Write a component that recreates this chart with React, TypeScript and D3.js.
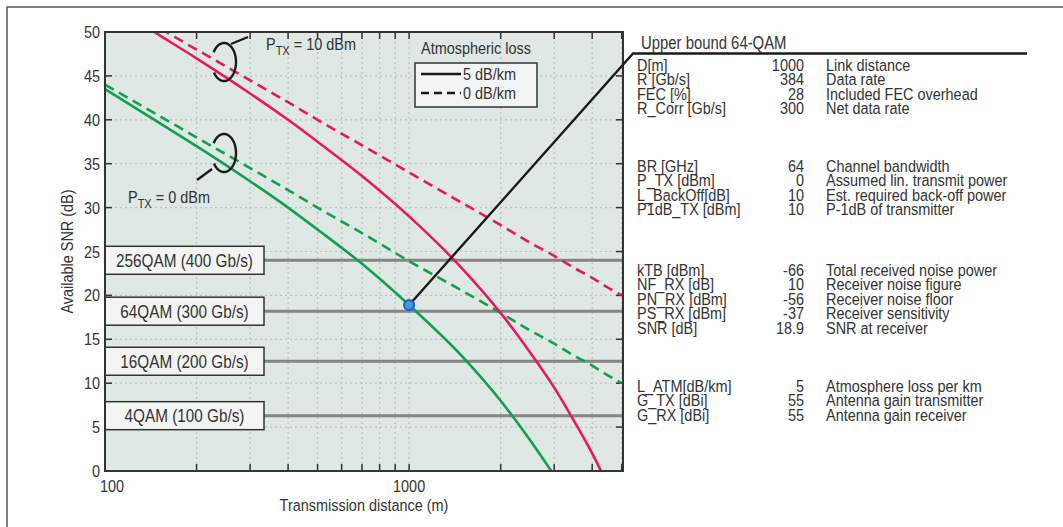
import React, { useEffect, useRef } from 'react';
import * as d3 from 'd3';

// distance samples (m) and SNR (dB)
const distances = [100, 150, 200, 300, 400, 500, 700, 1000, 1500, 2000, 2500, 3000, 3500, 4000, 4500, 5000];
const snr0dBm0 = [44.0, 40.5, 38.0, 34.5, 32.0, 30.0, 27.1, 23.9, 20.5, 18.0, 16.0, 14.5, 13.1, 12.0, 10.9, 10.0];
const snr0dBm5 = [43.5, 39.7, 37.0, 33.0, 30.0, 27.5, 23.6, 18.9, 13.0, 8.0, 3.5, -0.5, null, null, null, null];
const snr10dBm0 = [54.0, 50.5, 48.0, 44.5, 42.0, 40.0, 37.1, 34.0, 30.5, 28.0, 26.0, 24.5, 23.1, 22.0, 20.9, 20.0];
const snr10dBm5 = [53.5, 49.7, 47.0, 43.0, 40.0, 37.5, 33.6, 29.0, 23.0, 18.0, 13.5, 9.5, 5.6, 2.0, -1.6, null];

const qamLabels = ['256QAM (400 Gb/s)', '64QAM (300 Gb/s)', '16QAM (200 Gb/s)', '4QAM (100 Gb/s)'];
const qamSnr = [24, 18.2, 12.5, 6.3];

const linkDistance = 1000;
const linkSnr = 18.9;

const xMajor = [100, 1000];
const xMinor = [200, 300, 400, 500, 600, 700, 800, 900, 2000, 3000, 4000, 5000];
const yTicks = d3.range(0, 51, 5);

const tableNames = [
  ['D[m]', 'R [Gb/s]', 'FEC [%]', 'R_Corr [Gb/s]'],
  ['BR [GHz]', 'P_TX [dBm]', 'L_BackOff[dB]', 'P1dB_TX [dBm]'],
  ['kTB [dBm]', 'NF_RX [dB]', 'PN_RX [dBm]', 'PS_RX [dBm]', 'SNR [dB]'],
  ['L_ATM[dB/km]', 'G_TX [dBi]', 'G_RX [dBi]'],
];
const tableValues = [
  ['1000', '384', '28', '300'],
  ['64', '0', '10', '10'],
  ['-66', '10', '-56', '-37', '18.9'],
  ['5', '55', '55'],
];
const tableDesc = [
  ['Link distance', 'Data rate', 'Included FEC overhead', 'Net data rate'],
  ['Channel bandwidth', 'Assumed lin. transmit power', 'Est. required back-off power', 'P-1dB of transmitter'],
  ['Total received noise power', 'Receiver noise figure', 'Receiver noise floor', 'Receiver sensitivity', 'SNR at receiver'],
  ['Atmosphere loss per km', 'Antenna gain transmitter', 'Antenna gain receiver'],
];

const FONT = "'Liberation Sans', Arial, sans-serif";
const SX = 0.85; // horizontal squeeze to mimic the condensed face
const PINK = '#e8185c';
const GREEN = '#10a050';
const TEXT = '#333';

const App: React.FC = () => {
  const svgRef = useRef() as React.MutableRefObject<SVGSVGElement>;

  useEffect(() => {
    const width = 1063;
    const height = 527;
    const plot = { left: 105, right: 623, top: 32, bottom: 471 };

    const svg = d3.select(svgRef.current);
    svg.html('');
    svg.attr('width', width).attr('height', height).style('font-family', FONT);

    const label = (x: number, y: number, s: string | number, size: number, anchor = 'start', rot = 0) =>
      svg.append('text')
        .attr('transform', `translate(${x},${y}) rotate(${rot}) scale(${SX},1)`)
        .attr('text-anchor', anchor).attr('font-size', size).attr('fill', TEXT)
        .text(s);

    const x = d3.scaleLog().domain([100, 5050]).range([plot.left, plot.right]);
    const y = d3.scaleLinear().domain([0, 50]).range([plot.bottom, plot.top]);

    // outer frame (only left/top visible)
    svg.append('rect')
      .attr('x', 7).attr('y', 7).attr('width', 1200).attr('height', 700)
      .attr('fill', '#fff').attr('stroke', '#555').attr('stroke-width', 1.5);

    svg.append('rect')
      .attr('x', plot.left).attr('y', plot.top)
      .attr('width', plot.right - plot.left).attr('height', plot.bottom - plot.top)
      .attr('fill', '#dfe8e4');

    svg.append('defs').append('clipPath').attr('id', 'plotclip')
      .append('rect')
      .attr('x', plot.left).attr('y', plot.top)
      .attr('width', plot.right - plot.left).attr('height', plot.bottom - plot.top);

    // grid
    const grid = svg.append('g').attr('stroke', '#b9c2be').attr('stroke-width', 1.2).attr('stroke-dasharray', '2,3');
    grid.selectAll('line.gx').data(xMinor.concat([1000])).join('line')
      .attr('x1', d => x(d)).attr('x2', d => x(d))
      .attr('y1', plot.top).attr('y2', plot.bottom);
    grid.selectAll('line.gy').data(yTicks.slice(1, -1)).join('line')
      .attr('x1', plot.left).attr('x2', plot.right)
      .attr('y1', d => y(d)).attr('y2', d => y(d));

    // ticks, all pointing inward
    const ticks = svg.append('g').attr('stroke', '#333').attr('stroke-width', 1.5);
    const tl = 7;
    xMinor.concat(xMajor).forEach(d => {
      ticks.append('line').attr('x1', x(d)).attr('x2', x(d)).attr('y1', plot.bottom).attr('y2', plot.bottom - tl);
      ticks.append('line').attr('x1', x(d)).attr('x2', x(d)).attr('y1', plot.top).attr('y2', plot.top + tl);
    });
    yTicks.forEach(d => {
      ticks.append('line').attr('x1', plot.left).attr('x2', plot.left + tl).attr('y1', y(d)).attr('y2', y(d));
      ticks.append('line').attr('x1', plot.right).attr('x2', plot.right - tl).attr('y1', y(d)).attr('y2', y(d));
    });

    yTicks.forEach(d => label(plot.left - 5, y(d) + 6, d, 17, 'end'));
    xMajor.forEach((d, i) => label(x(d) + (i === 0 ? 7 : 0), 492, d, 17, 'middle'));

    label(364, 511, 'Transmission distance (m)', 17, 'middle');
    label(73, (plot.top + plot.bottom) / 2, 'Available SNR (dB)', 17, 'middle', -90);

    // QAM thresholds
    const boxRight = 264;
    qamSnr.forEach((s, i) => {
      svg.append('line')
        .attr('x1', boxRight).attr('x2', plot.right)
        .attr('y1', y(s)).attr('y2', y(s))
        .attr('stroke', '#858585').attr('stroke-width', 3);
      svg.append('rect')
        .attr('x', plot.left).attr('y', y(s) - 14)
        .attr('width', boxRight - plot.left).attr('height', 28)
        .attr('fill', '#f2f5f4').attr('stroke', '#333').attr('stroke-width', 1.5);
      label((plot.left + boxRight) / 2, y(s) + 6.5, qamLabels[i], 18, 'middle');
    });

    // SNR curves
    const line = d3.line<[number, number | null]>()
      .defined(d => d[1] !== null)
      .x(d => x(d[0]))
      .y(d => y(d[1] as number))
      .curve(d3.curveMonotoneX);

    const curves = svg.append('g').attr('clip-path', 'url(#plotclip)').attr('fill', 'none').attr('stroke-width', 2.6);
    const series: [(number | null)[], string, boolean][] = [
      [snr0dBm0, GREEN, true],
      [snr0dBm5, GREEN, false],
      [snr10dBm0, PINK, true],
      [snr10dBm5, PINK, false],
    ];
    series.forEach(([vals, color, dashed]) => {
      curves.append('path')
        .datum(distances.map((d, i) => [d, vals[i]] as [number, number | null]))
        .attr('stroke', color)
        .attr('stroke-dasharray', dashed ? '10,6' : null)
        .attr('d', line);
    });

    // plot border
    svg.append('rect')
      .attr('x', plot.left).attr('y', plot.top)
      .attr('width', plot.right - plot.left).attr('height', plot.bottom - plot.top)
      .attr('fill', 'none').attr('stroke', '#333').attr('stroke-width', 2);

    // link pointer to table
    svg.append('path')
      .attr('d', `M${x(linkDistance)},${y(linkSnr)} L633,53.5 L1027,53.5`)
      .attr('fill', 'none').attr('stroke', '#1a1a1a').attr('stroke-width', 2.4);
    svg.append('circle')
      .attr('cx', x(linkDistance)).attr('cy', y(linkSnr)).attr('r', 5)
      .attr('fill', '#4b97de').attr('stroke', '#1766c2').attr('stroke-width', 2.2);

    // legend
    label(421, 54, 'Atmospheric loss', 17);
    svg.append('rect').attr('x', 415).attr('y', 63).attr('width', 122).attr('height', 44)
      .attr('fill', '#f2f5f4').attr('stroke', '#333').attr('stroke-width', 1.5);
    svg.append('line').attr('x1', 421).attr('x2', 461).attr('y1', 74).attr('y2', 74)
      .attr('stroke', '#1a1a1a').attr('stroke-width', 2.4);
    svg.append('line').attr('x1', 421).attr('x2', 461).attr('y1', 93).attr('y2', 93)
      .attr('stroke', '#1a1a1a').attr('stroke-width', 2.4).attr('stroke-dasharray', '8,5');
    label(463, 80, '5 dB/km', 17);
    label(463, 99, '0 dB/km', 17);

    // loops marking the P_TX curve pairs
    const loop = (cx: number, cy: number) => {
      const p = d3.path();
      const rx = 12, ry = 19;
      const a0 = -2.6, a1 = 2.55;
      p.moveTo(cx + rx * Math.cos(a0), cy + ry * Math.sin(a0));
      for (let a = a0; a <= a1 + 1e-6; a += 0.05) {
        p.lineTo(cx + rx * Math.cos(a), cy + ry * Math.sin(a));
      }
      return p.toString();
    };
    const ann = svg.append('g').attr('fill', 'none').attr('stroke', '#1a1a1a').attr('stroke-width', 2.4);
    ann.append('path').attr('d', loop(224, 62));
    ann.append('line').attr('x1', 231).attr('y1', 44).attr('x2', 248).attr('y2', 37);
    ann.append('path').attr('d', loop(224, 153));
    ann.append('line').attr('x1', 212).attr('y1', 169).attr('x2', 197).attr('y2', 180);

    const ptx = (tx: number, ty: number, rest: string) => {
      const t = label(tx, ty, '', 17);
      t.append('tspan').text('P');
      t.append('tspan').attr('font-size', 13).attr('dy', 5).text('TX');
      t.append('tspan').attr('dy', -5).text(rest);
    };
    ptx(266, 50, ' = 10 dBm');
    ptx(128, 203, ' = 0 dBm');

    // parameter table
    label(641, 49, 'Upper bound 64-QAM', 17.5);
    const groupTops = [65, 166, 270, 386];
    const step = 14.45;
    tableNames.forEach((names, g) => {
      names.forEach((n, i) => {
        const ty = groupTops[g] + i * step + 6;
        label(637, ty, n, 17);
        label(804, ty, tableValues[g][i], 17, 'end');
        label(826, ty, tableDesc[g][i], 17);
      });
    });
  }, []);

  return (
    <div style={{ position: 'absolute', left: 0, top: 0 }}>
      <svg ref={svgRef} style={{ display: 'block' }} />
    </div>
  );
};

export default App;
